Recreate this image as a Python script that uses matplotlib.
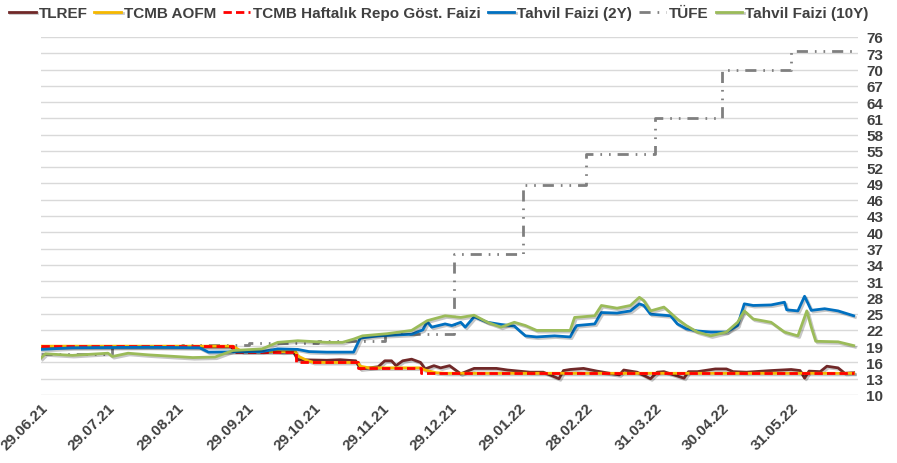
import matplotlib

matplotlib.use("Agg")
import matplotlib.dates as mdates
import matplotlib.patheffects as pe
import matplotlib.pyplot as plt
import pandas as pd

plt.rcParams["font.family"] = ["Liberation Sans", "DejaVu Sans"]
plt.rcParams["font.weight"] = "bold"

# TLREF
tlref_dates = [
    "2021-06-29", "2021-09-22", "2021-09-24", "2021-10-13", "2021-10-15", "2021-10-20",
    "2021-10-22", "2021-11-04", "2021-11-10", "2021-11-17", "2021-11-19", "2021-11-27",
    "2021-11-30", "2021-12-03", "2021-12-05", "2021-12-08", "2021-12-12", "2021-12-16",
    "2021-12-18", "2021-12-22", "2021-12-25", "2021-12-29", "2022-01-03", "2022-01-09",
    "2022-01-19", "2022-01-24", "2022-02-03", "2022-02-09", "2022-02-16", "2022-02-18",
    "2022-02-21", "2022-02-27", "2022-03-05", "2022-03-15", "2022-03-17", "2022-03-23",
    "2022-03-29", "2022-04-01", "2022-04-04", "2022-04-13", "2022-04-15", "2022-04-19",
    "2022-04-27", "2022-05-02", "2022-05-05", "2022-05-11", "2022-05-22", "2022-05-31",
    "2022-06-04", "2022-06-06", "2022-06-08", "2022-06-13", "2022-06-16", "2022-06-21",
    "2022-06-24", "2022-06-28",
]
tlref = [
    18.9, 18.9, 18.2, 18.0, 17.9, 18.0,
    16.5, 16.4, 16.5, 16.3, 14.8, 15.2,
    16.3, 16.3, 15.4, 16.3, 16.6, 16.0,
    14.8, 15.4, 15.0, 15.4, 13.9, 14.9,
    14.9, 14.6, 14.2, 14.2, 13.0, 14.5,
    14.7, 14.9, 14.4, 13.7, 14.6, 14.2,
    13.0, 14.2, 14.3, 13.1, 14.3, 14.3,
    14.8, 14.8, 14.3, 14.2, 14.5, 14.7,
    14.5, 13.1, 14.4, 14.3, 15.3, 15.0,
    14.0, 14.1,
]

# TCMB AOFM
aofm_dates = [
    "2021-06-29", "2021-09-23", "2021-09-27", "2021-10-21", "2021-10-22", "2021-10-26",
    "2021-10-29", "2021-11-18", "2021-11-19", "2021-11-23", "2021-12-16", "2021-12-18",
    "2021-12-23", "2021-12-27", "2022-06-28",
]
aofm = [19.0, 19.0, 18.0, 18.0, 17.2, 16.4, 16.0, 16.0, 15.3, 15.0, 15.0, 14.6, 14.1, 14.0, 14.0]

# TCMB haftalik repo (policy rate, step)
repo_dates = ["2021-06-29", "2021-09-23", "2021-10-21", "2021-11-18", "2021-12-16", "2022-06-28"]
repo = [19.0, 18.0, 16.0, 15.0, 14.0, 14.0]

# Tahvil faizi 2Y
bond2_dates = [
    "2021-06-29", "2021-07-13", "2021-08-16", "2021-09-08", "2021-09-12", "2021-10-06",
    "2021-10-13", "2021-10-22", "2021-10-27", "2021-11-04", "2021-11-16", "2021-11-19",
    "2021-11-27", "2021-12-12", "2021-12-17", "2021-12-19", "2021-12-21", "2021-12-27",
    "2021-12-30", "2022-01-03", "2022-01-05", "2022-01-09", "2022-01-15", "2022-01-21",
    "2022-01-27", "2022-01-30", "2022-02-01", "2022-02-06", "2022-02-14", "2022-02-21",
    "2022-02-23", "2022-02-24", "2022-03-04", "2022-03-07", "2022-03-14", "2022-03-20",
    "2022-03-24", "2022-03-26", "2022-03-29", "2022-04-04", "2022-04-07", "2022-04-10",
    "2022-04-14", "2022-04-19", "2022-04-25", "2022-05-02", "2022-05-07", "2022-05-10",
    "2022-05-14", "2022-05-22", "2022-05-28", "2022-05-29", "2022-06-03", "2022-06-06",
    "2022-06-09", "2022-06-15", "2022-06-21", "2022-06-28",
]
bond2 = [
    18.4, 18.7, 18.8, 18.7, 17.9, 18.0,
    18.5, 18.4, 18.0, 17.9, 17.9, 20.5,
    20.9, 21.2, 22.0, 23.5, 22.5, 23.1,
    22.8, 23.4, 22.5, 24.4, 23.4, 23.0,
    22.7, 21.6, 20.9, 20.7, 20.9, 20.7,
    22.2, 22.8, 23.1, 25.2, 25.1, 25.5,
    26.8, 26.5, 24.9, 24.7, 24.6, 23.1,
    22.2, 21.8, 21.6, 21.6, 22.8, 26.8,
    26.5, 26.6, 27.1, 25.7, 25.5, 28.2,
    25.6, 25.9, 25.5, 24.6,
]

# TUFE (yillik enflasyon, ay sonu)
cpi_dates = [
    "2021-06-29", "2021-07-31", "2021-08-31", "2021-09-30", "2021-10-31", "2021-11-30",
    "2021-12-31", "2022-01-31", "2022-02-28", "2022-03-31", "2022-04-30", "2022-05-31",
    "2022-06-28",
]
cpi = [17.53, 18.95, 19.25, 19.58, 19.89, 21.31, 36.08, 48.69, 54.44, 61.14, 69.97, 73.50, 73.50]

# Tahvil faizi 10Y
bond10_dates = [
    "2021-06-29", "2021-07-01", "2021-07-13", "2021-07-29", "2021-07-31", "2021-08-07",
    "2021-08-16", "2021-09-05", "2021-09-15", "2021-09-23", "2021-10-06", "2021-10-13",
    "2021-10-22", "2021-11-04", "2021-11-11", "2021-11-16", "2021-11-20", "2021-12-01",
    "2021-12-12", "2021-12-19", "2021-12-27", "2022-01-03", "2022-01-09", "2022-01-15",
    "2022-01-21", "2022-01-27", "2022-02-01", "2022-02-06", "2022-02-21", "2022-02-23",
    "2022-03-04", "2022-03-07", "2022-03-14", "2022-03-20", "2022-03-24", "2022-03-26",
    "2022-03-29", "2022-04-04", "2022-04-10", "2022-04-14", "2022-04-19", "2022-04-25",
    "2022-05-02", "2022-05-07", "2022-05-10", "2022-05-14", "2022-05-22", "2022-05-28",
    "2022-06-03", "2022-06-07", "2022-06-09", "2022-06-11", "2022-06-21", "2022-06-28",
]
bond10 = [
    16.8, 17.6, 17.3, 17.7, 17.1, 17.7,
    17.4, 16.9, 17.0, 18.2, 18.5, 19.7,
    20.0, 19.7, 19.7, 20.3, 20.9, 21.3,
    21.9, 23.7, 24.6, 24.3, 24.7, 23.4,
    22.5, 23.4, 22.8, 21.9, 21.9, 24.3,
    24.6, 26.5, 26.0, 26.5, 28.0, 27.4,
    25.5, 26.2, 24.0, 22.8, 21.6, 20.9,
    21.6, 23.4, 25.5, 24.0, 23.4, 21.6,
    20.9, 25.5, 22.5, 19.9, 19.8, 19.1,
]

tick_dates = [
    "2021-06-29", "2021-07-29", "2021-08-29", "2021-09-29", "2021-10-29", "2021-11-29",
    "2021-12-29", "2022-01-29", "2022-02-28", "2022-03-31", "2022-04-30", "2022-05-31",
]
y_ticks = list(range(10, 77, 3))

text_color = "#404040"
shadow = [pe.SimpleLineShadow(offset=(1.2, -1.2), shadow_color="#000000", alpha=0.22), pe.Normal()]

fig = plt.figure(figsize=(8.97, 4.64), dpi=100)
ax = fig.add_axes([0.0457, 0.1466, 0.911, 0.7716])

ax.plot(pd.to_datetime(tlref_dates), tlref, color="#702828", lw=2.0, label="TLREF",
        path_effects=shadow, zorder=3)
ax.plot(pd.to_datetime(aofm_dates), aofm, color="#F5B800", lw=2.0, label="TCMB AOFM",
        path_effects=shadow, zorder=4)
ax.plot(pd.to_datetime(repo_dates), repo, color="#FF0000", lw=2.0, ls=(0, (3, 1.5)),
        drawstyle="steps-post", label="TCMB Haftalık Repo Göst. Faizi", zorder=5)
ax.plot(pd.to_datetime(bond2_dates), bond2, color="#0070C0", lw=2.0, label="Tahvil Faizi (2Y)",
        path_effects=shadow, zorder=6)
ax.plot(pd.to_datetime(cpi_dates), cpi, color="#7F7F7F", lw=2.0, ls=(0, (4, 2.5, 0.6, 2.5, 0.6, 2.5)),
        drawstyle="steps-post", label="TÜFE", zorder=2)
ax.plot(pd.to_datetime(bond10_dates), bond10, color="#9BBB59", lw=2.0, label="Tahvil Faizi (10Y)",
        path_effects=shadow, zorder=7)

ax.set_ylim(10, 76)
ax.set_yticks(y_ticks)
ax.set_xlim(pd.Timestamp("2021-06-29"), pd.Timestamp("2022-06-30"))
ax.set_xticks(pd.to_datetime(tick_dates))
ax.xaxis.set_major_formatter(mdates.DateFormatter("%d.%m.%y"))

ax.yaxis.tick_right()
ax.grid(axis="y", color="#D9D9D9", lw=1.0)
ax.grid(axis="x", visible=False)
ax.set_axisbelow(True)
for spine in ax.spines.values():
    spine.set_visible(False)
ax.tick_params(axis="y", length=0, pad=6, labelsize=11, labelcolor=text_color)
ax.tick_params(axis="x", length=0, pad=4, labelsize=11, labelcolor=text_color)
for label in ax.get_xticklabels():
    label.set_rotation(45)
    label.set_ha("right")
    label.set_rotation_mode("anchor")
for label in ax.get_yticklabels():
    label.set_ha("left")

leg = fig.legend(loc="upper left", bbox_to_anchor=(0.003, 0.998), ncol=6, frameon=False,
                 fontsize=11, handlelength=1.75, handletextpad=0.2, columnspacing=0.45,
                 borderaxespad=0.2, borderpad=0.2)
for text in leg.get_texts():
    text.set_color(text_color)

fig.savefig("out.png", dpi=100)
